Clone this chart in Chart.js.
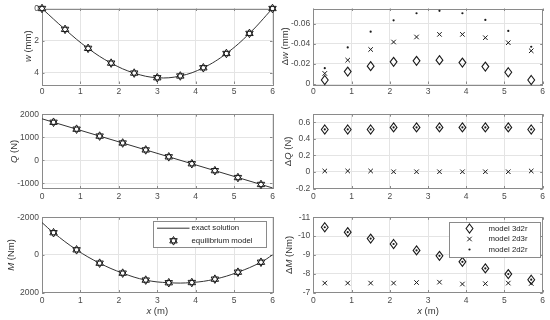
<!DOCTYPE html>
<html>
<head>
<meta charset="utf-8">
<script src="https://cdn.jsdelivr.net/npm/chart.js@4.4.1/dist/chart.umd.min.js"></script>
<style>
  body { margin: 0; background: #fff; width: 550px; height: 320px; overflow: hidden; position: relative; }
  canvas { position: absolute; }
</style>
</head>
<body>
<canvas id="cW" width="280" height="100" style="left:0;top:0"></canvas>
<canvas id="cDW" width="275" height="100" style="left:275px;top:0"></canvas>
<canvas id="cQ" width="280" height="105" style="left:0;top:100px"></canvas>
<canvas id="cDQ" width="275" height="105" style="left:275px;top:100px"></canvas>
<canvas id="cM" width="280" height="115" style="left:0;top:205px"></canvas>
<canvas id="cDM" width="275" height="115" style="left:275px;top:205px"></canvas>
<script>
// beam positions (m)
var xNodes = [0, 0.6, 1.2, 1.8, 2.4, 3.0, 3.6, 4.2, 4.8, 5.4, 6.0];
var xMid = [0.3, 0.9, 1.5, 2.1, 2.7, 3.3, 3.9, 4.5, 5.1, 5.7];
var xEnds = [0, 6];
var xTicks = [0, 1, 2, 3, 4, 5, 6];

// deflection w (mm)
var wModel = [0, 1.30, 2.48, 3.40, 4.02, 4.31, 4.20, 3.69, 2.80, 1.55, 0];
// shear force Q (N)
var qModel = [1650, 1350, 1050, 750, 450, 150, -150, -450, -750, -1050];
var qExact = [1800, -1200];
// bending moment M (Nm)
var mModel = [-1180, -270, 440, 970, 1340, 1480, 1470, 1290, 920, 390];
var mStart = -1720, mEnd = 0;

// differences to exact solution
var dw3d2r = [-0.004, -0.0123, -0.0177, -0.022, -0.023, -0.0237, -0.0213, -0.0173, -0.0117, -0.004];
var dw2d3r = [-0.0105, -0.0237, -0.0343, -0.0417, -0.0467, -0.0493, -0.0493, -0.046, -0.041, -0.033];
var dw2d2r = [-0.0157, -0.0363, -0.052, -0.0633, -0.0703, -0.0727, -0.0703, -0.0637, -0.0527, -0.037];

var dq3d2r = [0.515, 0.515, 0.515, 0.54, 0.54, 0.54, 0.54, 0.54, 0.54, 0.515];
var dq2d3r = [0.012, 0.012, 0.012, 0.003, 0.003, 0.003, 0.003, 0.003, 0.003, 0.012];
var dq2d2r = [0.515, 0.515, 0.515, 0.54, 0.54, 0.54, 0.54, 0.54, 0.54, 0.515];

var dm3d2r = [-10.47, -10.21, -9.87, -9.58, -9.24, -8.95, -8.63, -8.28, -7.98, -7.68];
var dm2d3r = [-7.5, -7.5, -7.5, -7.5, -7.53, -7.55, -7.45, -7.47, -7.5, -7.48];
var dm2d2r = [-10.47, -10.21, -9.87, -9.58, -9.24, -8.95, -8.63, -8.28, -7.98, -7.68];

var wTicks = [0, 2, 4];
var qTicks = [-1000, 0, 1000, 2000];
var mTicks = [-2000, 0, 2000];
var dwTicks = [-0.06, -0.04, -0.02, 0];
var dqTicks = [-0.2, 0, 0.2, 0.4, 0.6];
var dmTicks = [-11, -10, -9, -8, -7];

var leftNames = ['exact solution', 'equilibrium model'];
var rightNames = ['model 3d2r', 'model 2d3r', 'model 2d2r'];

var FONT = '"Liberation Sans", Arial, Helvetica, sans-serif';
var INK = '#1a1a1a';

function pts(xs, ys) {
    return xs.map(function (x, i) { return { x: x, y: ys[i] }; });
}

// MATLAB-like markers that Chart.js has no style for
function drawMarker(ctx, kind, x, y) {
    ctx.save();
    ctx.strokeStyle = INK;
    ctx.lineWidth = 1;
    if (kind === 'hexagram') {
        var r = 4.3;
        ctx.beginPath();
        [-Math.PI / 2, Math.PI / 2].forEach(function (off) {
            for (var k = 0; k < 3; k++) {
                var t = off + k * 2 * Math.PI / 3;
                if (k === 0) ctx.moveTo(x + r * Math.cos(t), y + r * Math.sin(t));
                else ctx.lineTo(x + r * Math.cos(t), y + r * Math.sin(t));
            }
            ctx.closePath();
        });
        ctx.fillStyle = '#fff';
        ctx.fill('nonzero');
        ctx.stroke();
    } else if (kind === 'diamond') {
        var hw = 3.4, hh = 4.5;
        ctx.lineWidth = 1.1;
        ctx.beginPath();
        ctx.moveTo(x, y - hh); ctx.lineTo(x + hw, y); ctx.lineTo(x, y + hh); ctx.lineTo(x - hw, y);
        ctx.closePath();
        ctx.stroke();
    }
    ctx.restore();
}

var customMarkers = {
    id: 'customMarkers',
    afterDatasetsDraw: function (chart) {
        chart.data.datasets.forEach(function (ds, i) {
            if (!ds.marker) return;
            chart.getDatasetMeta(i).data.forEach(function (el) {
                drawMarker(chart.ctx, ds.marker, el.x, el.y);
            });
        });
    }
};

// box round the axes, inward tick marks
var frame = {
    id: 'frame',
    beforeDatasetsDraw: function (chart) {
        var a = chart.chartArea, ctx = chart.ctx;
        ctx.save();
        ctx.strokeStyle = '#8a8a8a';
        ctx.lineWidth = 1;
        ctx.strokeRect(Math.round(a.left) + 0.5, Math.round(a.top) + 0.5,
            Math.round(a.right - a.left), Math.round(a.bottom - a.top));
        var xs = chart.scales.x, ys = chart.scales.y;
        ctx.beginPath();
        xs.ticks.forEach(function (t) {
            var p = Math.round(xs.getPixelForValue(t.value)) + 0.5;
            ctx.moveTo(p, a.bottom); ctx.lineTo(p, a.bottom - 2.5);
            ctx.moveTo(p, a.top); ctx.lineTo(p, a.top + 2.5);
        });
        ys.ticks.forEach(function (t) {
            var p = Math.round(ys.getPixelForValue(t.value)) + 0.5;
            ctx.moveTo(a.left, p); ctx.lineTo(a.left + 2.5, p);
            ctx.moveTo(a.right, p); ctx.lineTo(a.right - 2.5, p);
        });
        ctx.stroke();
        ctx.restore();
    }
};

function drawParts(ctx, parts, size) {
    var w = 0;
    parts.forEach(function (p) {
        ctx.font = p[1] + ' ' + size + 'px ' + FONT;
        w += ctx.measureText(p[0]).width;
    });
    var x = -w / 2;
    parts.forEach(function (p) {
        ctx.font = p[1] + ' ' + size + 'px ' + FONT;
        ctx.fillText(p[0], x, 0);
        x += ctx.measureText(p[0]).width;
    });
}

// axis titles with an italic symbol
var axTitles = {
    id: 'axTitles',
    afterDraw: function (chart, args, o) {
        var a = chart.chartArea, ctx = chart.ctx;
        ctx.save();
        ctx.fillStyle = '#333';
        ctx.textBaseline = 'middle';
        ctx.textAlign = 'left';
        if (o.y) {
            ctx.save();
            ctx.translate(o.y.x, (a.top + a.bottom) / 2);
            ctx.rotate(-Math.PI / 2);
            drawParts(ctx, o.y.parts, 9.5);
            ctx.restore();
        }
        if (o.x) {
            ctx.save();
            ctx.translate((a.left + a.right) / 2, o.x.y);
            drawParts(ctx, o.x.parts, 9.5);
            ctx.restore();
        }
        ctx.restore();
    }
};

// legend box inside the axes
var boxLegend = {
    id: 'boxLegend',
    afterDraw: function (chart, args, o) {
        if (!o.rows) return;
        var a = chart.chartArea, ctx = chart.ctx;
        var bx = Math.round(a.right - o.right - o.width) + 0.5;
        var by = Math.round(a.top + o.top) + 0.5;
        ctx.save();
        ctx.fillStyle = '#fff';
        ctx.fillRect(bx, by, o.width, o.height);
        ctx.strokeStyle = '#8a8a8a';
        ctx.lineWidth = 1;
        ctx.strokeRect(bx, by, o.width, o.height);
        o.rows.forEach(function (r, i) {
            var ds = chart.data.datasets[r.ds];
            var y = by + o.rowY[i];
            var mx = bx + o.markX;
            if (r.line) {
                ctx.strokeStyle = '#333';
                ctx.lineWidth = 1;
                ctx.beginPath();
                ctx.moveTo(bx + o.lineX[0], y);
                ctx.lineTo(bx + o.lineX[1], y);
                ctx.stroke();
            } else if (ds.marker) {
                drawMarker(ctx, ds.marker, mx, y);
            } else {
                ctx.strokeStyle = ds.borderColor || INK;
                ctx.fillStyle = ds.backgroundColor || INK;
                ctx.lineWidth = ds.pointBorderWidth || 1;
                Chart.helpers.drawPoint(ctx, {
                    pointStyle: ds.pointStyle,
                    radius: ds.pointRadius,
                    borderWidth: ds.pointBorderWidth,
                    rotation: 0
                }, mx, y);
            }
            ctx.fillStyle = '#222';
            ctx.font = '7.8px ' + FONT;
            ctx.textAlign = 'left';
            ctx.textBaseline = 'middle';
            ctx.fillText(ds.label, bx + o.textX, y);
        });
        ctx.restore();
    }
};

function fixTicks(vals) {
    return function (s) { s.ticks = vals.map(function (v) { return { value: v }; }); };
}

function panel(id, c) {
    return new Chart(document.getElementById(id), {
        type: 'scatter',
        data: { datasets: c.datasets },
        options: {
            responsive: false,
            animation: false,
            events: [],
            layout: { padding: { left: 0, right: c.right, top: c.top, bottom: 0 } },
            plugins: {
                legend: { display: false },
                tooltip: { enabled: false },
                axTitles: c.titles,
                boxLegend: c.legend || {}
            },
            scales: {
                x: {
                    type: 'linear', min: 0, max: 6,
                    afterBuildTicks: fixTicks(xTicks),
                    afterFit: function (s) { s.height = c.xh; },
                    grid: { color: '#e4e4e4', drawTicks: false },
                    border: { display: false },
                    ticks: { padding: 3, color: '#4a4a4a', font: { family: FONT, size: 8.5 },
                        maxRotation: 0, autoSkip: false, callback: function (v) { return String(v); } }
                },
                y: {
                    type: 'linear', min: c.ymin, max: c.ymax, reverse: !!c.reverse,
                    afterBuildTicks: fixTicks(c.yTicks),
                    afterFit: function (s) { s.width = c.yw; },
                    grid: { color: '#e4e4e4', drawTicks: false },
                    border: { display: false },
                    ticks: { padding: 3, color: '#4a4a4a', font: { family: FONT, size: 8.5 },
                        autoSkip: false, callback: function (v) { return String(v); } }
                }
            }
        },
        plugins: [frame, customMarkers, axTitles, boxLegend]
    });
}

function exactLine(data, tension) {
    return { label: leftNames[0], data: data, showLine: true, borderColor: '#333', borderWidth: 1,
        pointRadius: 0, tension: tension, clip: false };
}
function starSet(data) {
    return { label: leftNames[1], data: data, showLine: false, marker: 'hexagram', pointRadius: 0,
        clip: false };
}
function diffSets(a, b, d) {
    return [
        { label: rightNames[2], data: d, pointStyle: 'circle', pointRadius: 1.1, pointBorderWidth: 0,
            backgroundColor: INK, borderColor: INK, clip: false },
        { label: rightNames[1], data: b, pointStyle: 'crossRot', pointRadius: 3.2, pointBorderWidth: 1,
            borderColor: INK, backgroundColor: INK, clip: false },
        { label: rightNames[0], data: a, marker: 'diamond', pointRadius: 0, clip: false }
    ];
}

var leftGeom = { right: 7.5, yw: 42 };
var rightGeom = { right: 7.3, yw: 38.3 };

window.onload = function () {
    panel('cW', {
        right: leftGeom.right, yw: leftGeom.yw, top: 8.5, xh: 16,
        ymin: 0, ymax: 4.7, reverse: true, yTicks: wTicks,
        datasets: [exactLine(pts(xNodes, wModel), 0.4), starSet(pts(xNodes, wModel))],
        titles: { y: { x: 28, parts: [['w', 'italic'], [' (mm)', 'normal']] } }
    });
    panel('cDW', {
        right: rightGeom.right, yw: rightGeom.yw, top: 8.5, xh: 16,
        ymin: -0.075, ymax: 0, reverse: true, yTicks: dwTicks,
        datasets: diffSets(pts(xMid, dw3d2r), pts(xMid, dw2d3r), pts(xMid, dw2d2r)),
        titles: { y: { x: 10.5, parts: [['\u0394', 'normal'], ['w', 'italic'], [' (mm)', 'normal']] } }
    });
    panel('cQ', {
        right: leftGeom.right, yw: leftGeom.yw, top: 14.2, xh: 16.5,
        ymin: -1225, ymax: 2000, yTicks: qTicks,
        datasets: [exactLine(pts(xEnds, qExact), 0), starSet(pts(xMid, qModel))],
        titles: { y: { x: 14, parts: [['Q', 'italic'], [' (N)', 'normal']] } }
    });
    panel('cDQ', {
        right: rightGeom.right, yw: rightGeom.yw, top: 14.2, xh: 16.5,
        ymin: -0.2, ymax: 0.7, yTicks: dqTicks,
        datasets: diffSets(pts(xMid, dq3d2r), pts(xMid, dq2d3r), pts(xMid, dq2d2r)),
        titles: { y: { x: 13, parts: [['\u0394', 'normal'], ['Q', 'italic'], [' (N)', 'normal']] } }
    });
    panel('cM', {
        right: leftGeom.right, yw: leftGeom.yw, top: 12.3, xh: 27.5,
        ymin: -2000, ymax: 2000, reverse: true, yTicks: mTicks,
        datasets: [exactLine(pts([0].concat(xMid, [6]), [mStart].concat(mModel, [mEnd])), 0.4),
            starSet(pts(xMid, mModel))],
        titles: {
            y: { x: 11, parts: [['M', 'italic'], [' (Nm)', 'normal']] },
            x: { y: 106, parts: [['x', 'italic'], [' (m)', 'normal']] }
        },
        legend: {
            right: 7, top: 4, width: 113, height: 26, rowY: [6.7, 19.3],
            lineX: [3.5, 36], markX: 20, textX: 38,
            rows: [{ ds: 0, line: true }, { ds: 1 }]
        }
    });
    panel('cDM', {
        right: rightGeom.right, yw: rightGeom.yw, top: 12.3, xh: 27.5,
        ymin: -11, ymax: -7, reverse: true, yTicks: dmTicks,
        datasets: diffSets(pts(xMid, dm3d2r), pts(xMid, dm2d3r), pts(xMid, dm2d2r)),
        titles: {
            y: { x: 14, parts: [['\u0394', 'normal'], ['M', 'italic'], [' (Nm)', 'normal']] },
            x: { y: 106, parts: [['x', 'italic'], [' (m)', 'normal']] }
        },
        legend: {
            right: 2.7, top: 4.4, width: 91, height: 35, rowY: [6, 16.5, 27],
            markX: 20, textX: 39,
            rows: [{ ds: 2 }, { ds: 1 }, { ds: 0 }]
        }
    });
};
</script>
</body>
</html>
